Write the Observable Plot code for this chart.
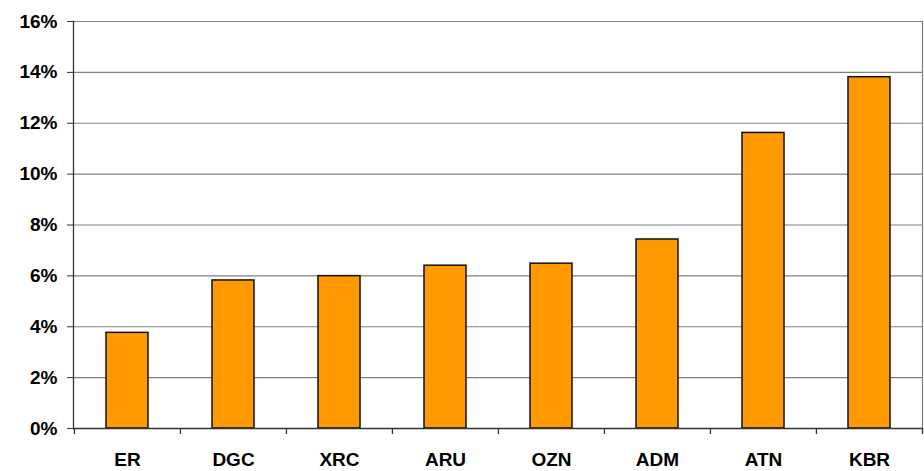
<!DOCTYPE html>
<html>
<head>
<meta charset="utf-8">
<script src="https://cdn.jsdelivr.net/npm/d3@7"></script>
<script src="https://cdn.jsdelivr.net/npm/@observablehq/plot@0.6"></script>
<style>
  html, body { margin: 0; padding: 0; background: #fff; }
  #chart svg { display: block; }
</style>
</head>
<body>
<div id="chart"></div>
<script>
const categories = ["ER", "DGC", "XRC", "ARU", "OZN", "ADM", "ATN", "KBR"];
const values = [3.76, 5.82, 5.99, 6.40, 6.48, 7.43, 11.62, 13.81];
const yTicks = [0, 2, 4, 6, 8, 10, 12, 14, 16];

const data = categories.map((c, i) => ({ cat: c, value: values[i] }));

const W = 924, H = 471;
const mL = 73, mR = 2, mT = 21, mB = 43;
const bw = (W - mL - mR) / categories.length;
const pxPerUnit = (H - mT - mB) / 16;
const tickLen = 6 / pxPerUnit;

const chart = Plot.plot({
  width: W,
  height: H,
  marginLeft: mL,
  marginRight: mR,
  marginTop: mT,
  marginBottom: mB,
  style: { fontFamily: "'Liberation Sans', Arial, sans-serif", background: "#fff", overflow: "visible" },
  x: { domain: categories, padding: 0 },
  y: { domain: [0, 16] },
  marks: [
    Plot.gridY(yTicks, { stroke: "#808080", strokeOpacity: 1, strokeWidth: 1.2 }),
    Plot.frame({ anchor: "right", stroke: "#808080", strokeWidth: 1.2 }),
    Plot.barY(data, {
      x: "cat", y: "value",
      fill: "#FF9900", stroke: "#111", strokeWidth: 1.5,
      insetLeft: 32, insetRight: 32
    }),
    Plot.frame({ anchor: "left", stroke: "#333", strokeWidth: 1.3 }),
    Plot.ruleY([0], { stroke: "#333", strokeWidth: 1.3 }),
    Plot.ruleX(categories, { x: d => d, dx: -bw / 2, y1: 0, y2: -tickLen, stroke: "#333", strokeWidth: 1.3 }),
    Plot.ruleX([categories[categories.length - 1]], { x: d => d, dx: bw / 2, y1: 0, y2: -tickLen, stroke: "#333", strokeWidth: 1.3 }),
    Plot.axisY(yTicks, {
      tickFormat: d => d + "%",
      tickSize: 6, tickPadding: 10,
      fontSize: 19, fontWeight: "bold", fill: "#000",
      stroke: "#333", label: null
    }),
    Plot.axisX({
      tickSize: 0, tickPadding: 24,
      fontSize: 19, fontWeight: "bold", fill: "#000",
      label: null
    })
  ]
});

document.getElementById("chart").appendChild(chart);
</script>
</body>
</html>
